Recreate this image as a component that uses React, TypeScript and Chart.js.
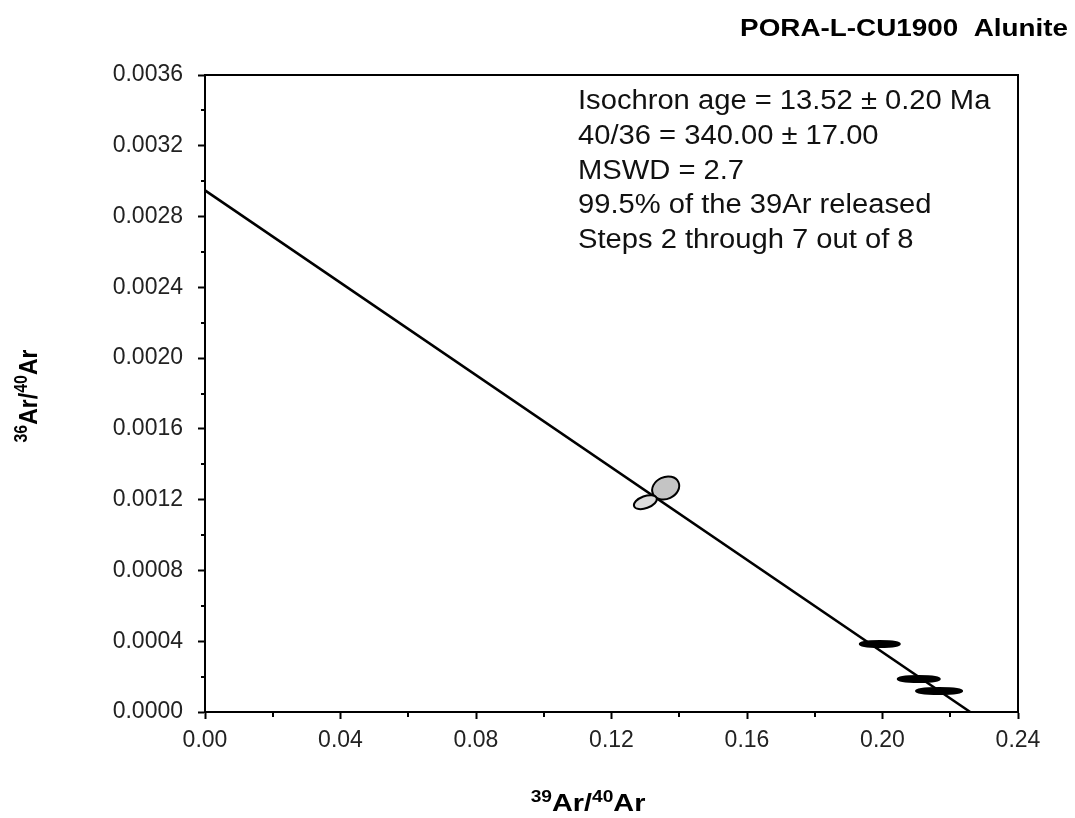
import React, { useEffect, useRef } from "react";
import { Chart, registerables } from "chart.js";

Chart.register(...registerables);

// Isochron regression line endpoints
const lineX = [0.0, 0.2259];
const lineY = [0.002948, 0.0];

// Step ellipses (centres, semi-axes in data units, tilt in degrees)
const stepX = [0.136, 0.13, 0.1992, 0.2107, 0.2167];
const stepY = [0.001266, 0.001186, 0.000384, 0.000186, 0.000119];
const stepRx = [0.00414, 0.00355, 0.0059, 0.0062, 0.0068];
const stepRy = [0.000062, 0.000034, 0.000017, 0.000017, 0.000017];
const stepTilt = [-25, -20, 0, 0, 0];
const stepFill = ["#c4c4c4", "#dcdcdc", "#000000", "#000000", "#000000"];

const xTicks = [0, 0.04, 0.08, 0.12, 0.16, 0.2, 0.24];
const yTicks = [0, 0.0004, 0.0008, 0.0012, 0.0016, 0.002, 0.0024, 0.0028, 0.0032, 0.0036];
const xMinor = [0.02, 0.06, 0.1, 0.14, 0.18, 0.22];
const yMinor = [0.0002, 0.0006, 0.001, 0.0014, 0.0018, 0.0022, 0.0026, 0.003, 0.0034];

const titleText = "PORA-L-CU1900  Alunite";
const annotationLines = [
  "Isochron age = 13.52 ± 0.20 Ma",
  "40/36 = 340.00 ± 17.00",
  "MSWD = 2.7",
  "99.5% of the 39Ar released",
  "Steps 2 through 7 out of 8",
];

const FONT = "'Liberation Sans', Arial, sans-serif";

type Seg = { t: string; sup?: boolean };

function drawSupText(ctx: CanvasRenderingContext2D, segs: Seg[], size: number, supSize: number) {
  // draws centred at 0,0 (baseline at 0)
  const widths = segs.map((s) => {
    ctx.font = `bold ${s.sup ? supSize : size}px ${FONT}`;
    return ctx.measureText(s.t).width;
  });
  const total = widths.reduce((a, b) => a + b, 0);
  let x = -total / 2;
  ctx.textAlign = "left";
  ctx.textBaseline = "alphabetic";
  segs.forEach((s, i) => {
    ctx.font = `bold ${s.sup ? supSize : size}px ${FONT}`;
    ctx.fillText(s.t, x, s.sup ? -size * 0.38 : 0);
    x += widths[i];
  });
}

const decorPlugin = {
  id: "decor",
  afterDatasetsDraw(chart: any) {
    const { ctx, chartArea, scales } = chart;
    const xs = scales.x;
    const ys = scales.y;
    ctx.save();
    ctx.beginPath();
    ctx.rect(chartArea.left, chartArea.top, chartArea.right - chartArea.left, chartArea.bottom - chartArea.top);
    ctx.clip();
    for (let i = 0; i < stepX.length; i++) {
      const cx = xs.getPixelForValue(stepX[i]);
      const cy = ys.getPixelForValue(stepY[i]);
      const rx = Math.abs(xs.getPixelForValue(stepX[i] + stepRx[i]) - cx);
      const ry = Math.abs(ys.getPixelForValue(stepY[i] + stepRy[i]) - cy);
      ctx.beginPath();
      ctx.ellipse(cx, cy, rx, ry, (stepTilt[i] * Math.PI) / 180, 0, Math.PI * 2);
      ctx.fillStyle = stepFill[i];
      ctx.fill();
      ctx.lineWidth = 2;
      ctx.strokeStyle = "#000";
      ctx.stroke();
    }
    ctx.restore();
  },
  afterDraw(chart: any) {
    const { ctx, chartArea, scales } = chart;
    const xs = scales.x;
    const ys = scales.y;
    ctx.save();
    // frame
    ctx.strokeStyle = "#000";
    ctx.lineWidth = 2;
    ctx.strokeRect(chartArea.left, chartArea.top, chartArea.right - chartArea.left, chartArea.bottom - chartArea.top);
    // minor ticks
    ctx.lineWidth = 2;
    ctx.beginPath();
    xMinor.forEach((v) => {
      const px = Math.round(xs.getPixelForValue(v));
      ctx.moveTo(px, chartArea.bottom);
      ctx.lineTo(px, chartArea.bottom + 5);
    });
    yMinor.forEach((v) => {
      const py = Math.round(ys.getPixelForValue(v));
      ctx.moveTo(chartArea.left, py);
      ctx.lineTo(chartArea.left - 4, py);
    });
    ctx.stroke();

    // title (right-aligned at x=1068, slightly widened)
    ctx.fillStyle = "#000";
    ctx.save();
    ctx.translate(1068, 36);
    ctx.scale(1.16, 1);
    ctx.font = `bold 24px ${FONT}`;
    ctx.textAlign = "right";
    ctx.textBaseline = "alphabetic";
    ctx.fillText(titleText, 0, 0);
    ctx.restore();

    // annotation
    ctx.save();
    ctx.translate(578, 0);
    ctx.scale(1.08, 1);
    ctx.font = `27px ${FONT}`;
    ctx.textAlign = "left";
    ctx.textBaseline = "alphabetic";
    ctx.fillStyle = "#111";
    annotationLines.forEach((l, i) => {
      ctx.fillText(l, 0, 109 + i * 34.8);
    });
    ctx.restore();

    // x axis title
    ctx.fillStyle = "#000";
    ctx.save();
    ctx.translate(588, 811);
    ctx.scale(1.2, 1);
    drawSupText(ctx, [{ t: "39", sup: true }, { t: "Ar/" }, { t: "40", sup: true }, { t: "Ar" }], 24, 16);
    ctx.restore();

    // y axis title
    ctx.save();
    ctx.translate(37, 396);
    ctx.rotate(-Math.PI / 2);
    ctx.scale(1, 1.15);
    drawSupText(ctx, [{ t: "36", sup: true }, { t: "Ar/" }, { t: "40", sup: true }, { t: "Ar" }], 23, 16);
    ctx.restore();
    ctx.restore();
  },
};

export default function App() {
  const ref = useRef<HTMLCanvasElement | null>(null);
  useEffect(() => {
    if (!ref.current) return;
    const chart = new Chart(ref.current, {
      type: "scatter",
      data: {
        datasets: [
          {
            type: "line",
            data: lineX.map((x, i) => ({ x, y: lineY[i] })),
            borderColor: "#000",
            borderWidth: 2.5,
            pointRadius: 0,
            fill: false,
          } as any,
        ],
      },
      options: {
        responsive: false,
        animation: false,
        layout: { padding: { left: 0, top: 75, right: 57, bottom: 0 } },
        plugins: { legend: { display: false }, tooltip: { enabled: false }, title: { display: false } },
        scales: {
          x: {
            type: "linear",
            min: 0,
            max: 0.24,
            afterFit: (s: any) => {
              s.height = 106;
            },
            afterBuildTicks: (s: any) => {
              s.ticks = xTicks.map((v) => ({ value: v }));
            },
            ticks: {
              font: { family: FONT, size: 23 },
              color: "#222",
              padding: 8,
              maxRotation: 0,
              callback: (v: any) => Number(v).toFixed(2),
            },
            grid: { drawOnChartArea: false, drawTicks: true, tickLength: 7, tickColor: "#000", tickWidth: 2 },
            border: { display: true, color: "#000", width: 2 },
          },
          y: {
            type: "linear",
            min: 0,
            max: 0.0036,
            afterFit: (s: any) => {
              s.width = 205;
            },
            afterBuildTicks: (s: any) => {
              s.ticks = yTicks.map((v) => ({ value: v }));
            },
            ticks: {
              font: { family: FONT, size: 23 },
              color: "#222",
              padding: 15,
              callback: (v: any) => Number(v).toFixed(4),
            },
            grid: { drawOnChartArea: false, drawTicks: true, tickLength: 7, tickColor: "#000", tickWidth: 2 },
            border: { display: true, color: "#000", width: 2 },
          },
        },
      },
      plugins: [decorPlugin],
    });
    return () => chart.destroy();
  }, []);
  return (
    <div style={{ position: "absolute", left: 0, top: 0, width: 1075, height: 818, background: "#fff" }}>
      <canvas ref={ref} width={1075} height={818} />
    </div>
  );
}
